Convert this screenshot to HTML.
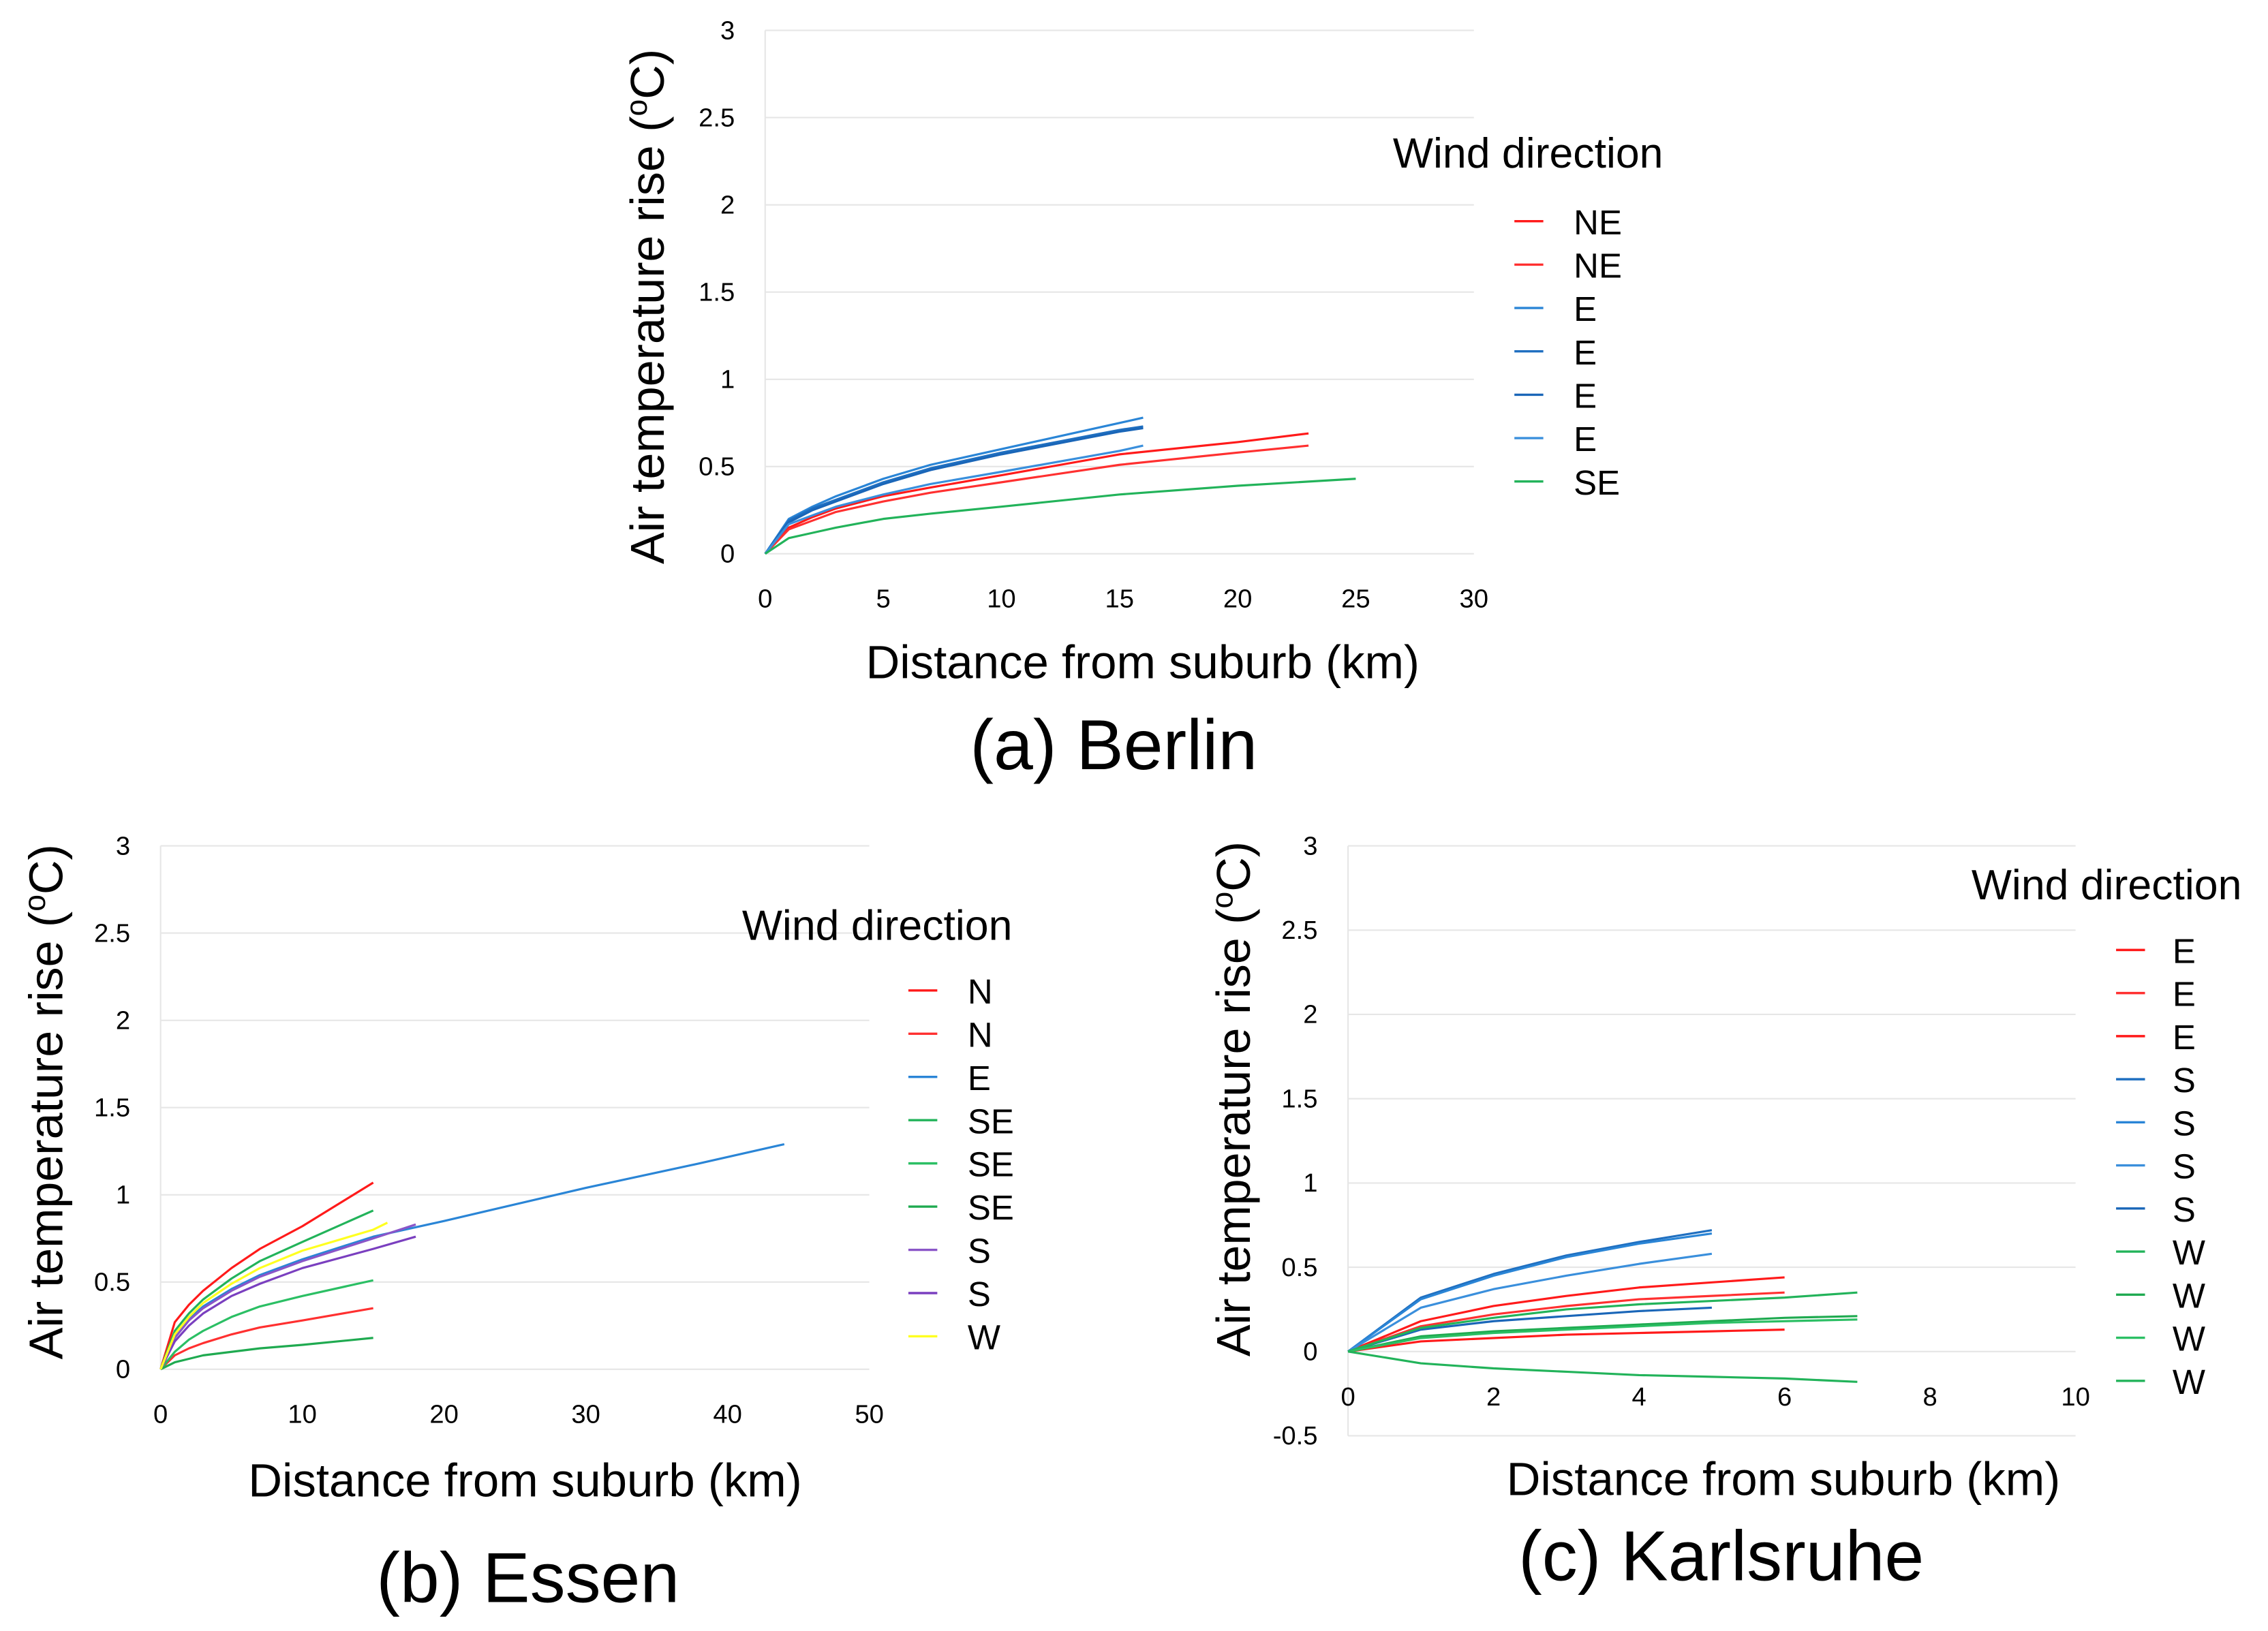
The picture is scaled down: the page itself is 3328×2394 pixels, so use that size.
<!DOCTYPE html>
<html><head><meta charset="utf-8"><style>
html,body{margin:0;padding:0;background:#fff}
svg{display:block}
text{font-family:"Liberation Sans",sans-serif;fill:#000}
</style></head><body>
<svg id="fig" width="3328" height="2394" viewBox="0 0 1568 1128" xmlns="http://www.w3.org/2000/svg"></svg>
<script>
// ---------- Berlin data ----------
const berlinNames = ["NE","NE","E","E","E","E","SE"];
const berlinColors = ["#ff1a1a","#ff3030","#2a85d6","#1f6fc0","#1a66b8","#3a8fdc","#22b35a"];
const berlinX = [
 [0,1,2,3,5,7,10,15,20,23],
 [0,1,2,3,5,7,10,15,20,23],
 [0,1,2,3,5,7,10,15,16],
 [0,1,2,3,5,7,10,15,16],
 [0,1,2,3,5,7,10,15,16],
 [0,1,2,3,5,7,10,15,16],
 [0,1,2,3,5,7,10,15,20,25]];
const berlinY = [
 [0,0.15,0.21,0.26,0.33,0.38,0.45,0.57,0.64,0.69],
 [0,0.14,0.19,0.24,0.30,0.35,0.41,0.51,0.58,0.62],
 [0,0.20,0.27,0.33,0.43,0.51,0.60,0.75,0.78],
 [0,0.19,0.26,0.31,0.41,0.49,0.58,0.71,0.73],
 [0,0.18,0.25,0.30,0.40,0.48,0.57,0.70,0.72],
 [0,0.17,0.22,0.27,0.34,0.40,0.47,0.59,0.62],
 [0,0.09,0.12,0.15,0.20,0.23,0.27,0.34,0.39,0.43]];
const berlinXTicks = [0,5,10,15,20,25,30];
const berlinYTicks = [0,0.5,1,1.5,2,2.5,3];

// ---------- Essen data ----------
const essenNames = ["N","N","E","SE","SE","SE","S","S","W"];
const essenColors = ["#ff1a1a","#ff3030","#2a85d6","#22b35a","#2bbf64","#1faa50","#8a55c8","#7a3fbf","#ffff20"];
const essenX = [
 [0,1,2,3,5,7,10,15],
 [0,1,2,3,5,7,10,15],
 [0,1,2,3,5,7,10,15,20,30,38,44],
 [0,1,2,3,5,7,10,15],
 [0,1,2,3,5,7,10,15],
 [0,1,2,3,5,7,10,15],
 [0,1,2,3,5,7,10,15,18],
 [0,1,2,3,5,7,10,15,18],
 [0,1,2,3,5,7,10,15,16]];
const essenY = [
 [0,0.27,0.37,0.45,0.58,0.69,0.82,1.07],
 [0,0.08,0.12,0.15,0.20,0.24,0.28,0.35],
 [0,0.20,0.29,0.36,0.46,0.54,0.63,0.76,0.85,1.04,1.18,1.29],
 [0,0.22,0.32,0.40,0.52,0.62,0.73,0.91],
 [0,0.10,0.17,0.22,0.30,0.36,0.42,0.51],
 [0,0.04,0.06,0.08,0.10,0.12,0.14,0.18],
 [0,0.18,0.28,0.35,0.45,0.53,0.62,0.75,0.83],
 [0,0.16,0.25,0.32,0.42,0.49,0.58,0.69,0.76],
 [0,0.20,0.30,0.38,0.49,0.58,0.68,0.80,0.84]];
const essenXTicks = [0,10,20,30,40,50];
const essenYTicks = [0,0.5,1,1.5,2,2.5,3];

// ---------- Karlsruhe data ----------
const karlNames = ["E","E","E","S","S","S","S","W","W","W","W"];
const karlColors = ["#ff1a1a","#ff3030","#ff1a1a","#1f6fc0","#2a85d6","#3a8fdc","#1a66b8","#22b35a","#1faa50","#2bbf64","#22b35a"];
const karlX = [
 [0,1,2,3,4,5,6],[0,1,2,3,4,5,6],[0,1,2,3,4,5,6],
 [0,1,2,3,4,5],[0,1,2,3,4,5],[0,1,2,3,4,5],[0,1,2,3,4,5],
 [0,1,2,3,4,5,6,7],[0,1,2,3,4,5,6,7],[0,1,2,3,4,5,6,7],[0,1,2,3,4,5,6,7]];
const karlY = [
 [0,0.18,0.27,0.33,0.38,0.41,0.44],
 [0,0.15,0.22,0.27,0.31,0.33,0.35],
 [0,0.06,0.08,0.10,0.11,0.12,0.13],
 [0,0.32,0.46,0.57,0.65,0.72],
 [0,0.31,0.45,0.56,0.64,0.70],
 [0,0.26,0.37,0.45,0.52,0.58],
 [0,0.13,0.18,0.21,0.24,0.26],
 [0,0.14,0.20,0.25,0.28,0.30,0.32,0.35],
 [0,0.09,0.12,0.14,0.16,0.18,0.20,0.21],
 [0,0.08,0.11,0.13,0.15,0.17,0.18,0.19],
 [0,-0.07,-0.10,-0.12,-0.14,-0.15,-0.16,-0.18]];
const karlXTicks = [0,2,4,6,8,10];
const karlYTicks = [-0.5,0,0.5,1,1.5,2,2.5,3];

const NS="http://www.w3.org/2000/svg";
const svg=document.getElementById('fig');
function mk(tag,attrs,parent){const e=document.createElementNS(NS,tag);for(const k in attrs)e.setAttribute(k,attrs[k]);(parent||svg).appendChild(e);return e;}

function chart(cfg){
  const g=mk('g',{});
  
  
  const sx=v=>cfg.x0+(v-cfg.xmin)/(cfg.xmax-cfg.xmin)*(cfg.x1-cfg.x0);
  const sy=v=>cfg.y0+(v-cfg.ymin)/(cfg.ymax-cfg.ymin)*(cfg.y1-cfg.y0);
  cfg.yTicks.forEach(t=>{
    const l=mk('line',{x1:cfg.x0,x2:cfg.x1,y1:sy(t),y2:sy(t),stroke:'#e6e6e6','stroke-width':1},g);
    
    
    const tx=mk('text',{x:cfg.x0-21,y:sy(t)+6,'text-anchor':'end','font-size':18},g);
    tx.textContent=String(t);
    
    
  });
  const ax=mk('line',{x1:cfg.x0,x2:cfg.x0,y1:sy(cfg.ymin),y2:sy(cfg.ymax),stroke:'#e6e6e6','stroke-width':1},g);
  
  
  cfg.xTicks.forEach(t=>{
    const tx=mk('text',{x:sx(t),y:cfg.xLabY,'text-anchor':'middle','font-size':18},g);
    tx.textContent=String(t);
    
    
  });
  cfg.xs.forEach((xa,i)=>{
    const pts=xa.map((x,j)=>sx(x).toFixed(2)+','+sy(cfg.ys[i][j]).toFixed(2)).join(' ');
    const pl=mk('polyline',{points:pts,fill:'none',stroke:cfg.colors[i],'stroke-width':1.5,'stroke-linejoin':'round'},g);
    
    
  });
  const lt=mk('text',{x:cfg.legX0,y:cfg.legTitleY,'font-size':29.5},g);
  lt.textContent='Wind direction';
  
  
  cfg.names.forEach((n,i)=>{
    const y=cfg.legY0+i*cfg.legStep;
    const l=mk('line',{x1:cfg.legLineX,x2:cfg.legLineX+20,y1:y-8,y2:y-8,stroke:cfg.colors[i],'stroke-width':1.6},g);
    
    
    const t=mk('text',{x:cfg.legTextX,y:y+1,'font-size':24},g);
    t.textContent=n;
    
    
  });
  const xt=mk('text',{x:cfg.xTitleX,y:cfg.xTitleY,'text-anchor':'middle','font-size':32.5},g);
  xt.textContent='Distance from suburb (km)';
  
  
  const yt=mk('text',{x:0,y:0,'text-anchor':'middle','font-size':33,transform:`translate(${cfg.yTitleX},${cfg.yTitleY}) rotate(-90)`},g);
  yt.innerHTML='Air temperature rise (<tspan font-size="21" dy="-12">o</tspan><tspan dy="12">C)</tspan>';
  
  
  const ct=mk('text',{x:cfg.capX,y:cfg.capY,'text-anchor':'middle','font-size':49},g);
  ct.textContent=cfg.caption;
  
  
}

chart({id:'berlin',x0:529,x1:1019,xmin:0,xmax:30,y0:383,y1:21,ymin:0,ymax:3,
  xs:berlinX,ys:berlinY,names:berlinNames,colors:berlinColors,xTicks:berlinXTicks,yTicks:berlinYTicks,
  xLabY:420,legX0:963,legTitleY:116,legY0:161,legStep:30,legLineX:1047,legTextX:1088,
  xTitleX:790,xTitleY:469,yTitleX:459,yTitleY:212,caption:'(a) Berlin',capX:770,capY:532});
chart({id:'essen',x0:111,x1:601,xmin:0,xmax:50,y0:947,y1:585,ymin:0,ymax:3,
  xs:essenX,ys:essenY,names:essenNames,colors:essenColors,xTicks:essenXTicks,yTicks:essenYTicks,
  xLabY:984,legX0:513,legTitleY:650,legY0:693,legStep:29.9,legLineX:628,legTextX:669,
  xTitleX:363,xTitleY:1035,yTitleX:43,yTitleY:762,caption:'(b) Essen',capX:365,capY:1108});
chart({id:'karlsruhe',x0:932,x1:1435,xmin:0,xmax:10,y0:993,y1:585,ymin:-0.5,ymax:3,
  xs:karlX,ys:karlY,names:karlNames,colors:karlColors,xTicks:karlXTicks,yTicks:karlYTicks,
  xLabY:972,legX0:1363,legTitleY:622,legY0:665,legStep:29.8,legLineX:1463,legTextX:1502,
  xTitleX:1233,xTitleY:1034,yTitleX:864,yTitleY:760,caption:'(c) Karlsruhe',capX:1190,capY:1093});
</script>
</body></html>
